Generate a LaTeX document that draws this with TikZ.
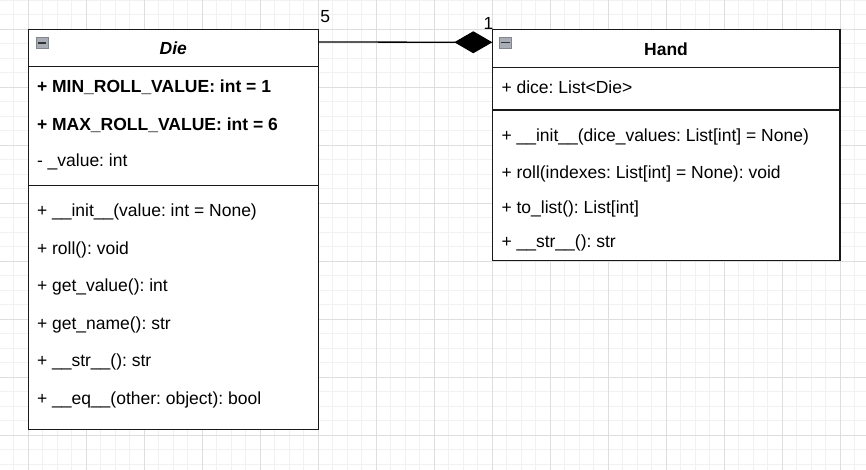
\documentclass[tikz,border=0pt]{standalone}
\usepackage{fontspec}
\setmainfont{Liberation Sans}
\usetikzlibrary{arrows.meta,positioning}

\definecolor{gridminor}{HTML}{F1F1F1}
\definecolor{gridmajor}{HTML}{DEDEDE}
\definecolor{iconfill}{HTML}{A9ADB5}
\definecolor{iconline}{HTML}{80858E}

\frenchspacing

\begin{document}
\begin{tikzpicture}[x=1pt, y=-1pt]
        \tikzstyle{every node}=[inner sep=0pt, outer sep=0pt, font=\fontsize{17.5}{20}\selectfont]
        \tikzstyle{classpart}=[draw=black!90, line width=1.2pt, rectangle, anchor=north west]
        \tikzstyle{member}=[anchor=west]
        \tikzstyle{icon}=[draw=iconline, fill=iconfill, minimum width=12pt, minimum height=11.5pt, anchor=north west]

% background and grid
        \useasboundingbox (0,0) rectangle (866,470);
        \fill[white] (0,0) rectangle (866,470);
        \foreach \i in {-2,...,58} {
                \draw[gridminor, line width=0.9pt] (28.3+14.5*\i,0) -- (28.3+14.5*\i,470);
        }
        \foreach \i in {-2,...,31} {
                \draw[gridminor, line width=0.9pt] (0,29.3+14.5*\i) -- (866,29.3+14.5*\i);
        }
        \foreach \i in {0,...,14} {
                \draw[gridmajor, line width=0.9pt] (28.3+58*\i,0) -- (28.3+58*\i,470);
        }
        \foreach \i in {-1,...,7} {
                \draw[gridmajor, line width=0.9pt] (0,29.3+58*\i) -- (866,29.3+58*\i);
        }

% class Die
        \node[classpart, fill=white, minimum width=290pt, minimum height=37.4pt] (dieHead) at (28.3,29.3) {};
        \node[classpart, fill=white, minimum width=290pt, minimum height=119pt] (dieAttr) at (28.3,66.7) {};
        \node[classpart, fill=white, minimum width=290pt, minimum height=243.6pt] (dieOps) at (28.3,185.7) {};
        \node[icon] (dieIcon) at (35.8,37.2) {};
        \draw[black!80, line width=1.3pt] ([xshift=1.8pt]dieIcon.west) -- ([xshift=-1.8pt]dieIcon.east);
        \node[font=\fontsize{17.5}{20}\selectfont\bfseries\itshape] (dieName) at (173.3,48.5) {Die};

        \node[member, font=\fontsize{17.5}{20}\selectfont\bfseries] (dieMin) at (37,87.3) {+ MIN\_ROLL\_VALUE: int = 1};
        \node[member, font=\fontsize{17.5}{20}\selectfont\bfseries] (dieMax) at (37,125) {+ MAX\_ROLL\_VALUE: int = 6};
        \node[member] (dieValue) at (37,162.3) {- \_value: int};

        \node[member] (dieInit) at (37,212.3) {+ \_\_init\_\_(value: int = None)};
        \node[member] (dieRoll) at (37,250) {+ roll(): void};
        \node[member] (dieGet) at (37,287.3) {+ get\_value(): int};
        \node[member] (dieName2) at (37,325.3) {+ get\_name(): str};
        \node[member] (dieStr) at (37,362.3) {+ \_\_str\_\_(): str};
        \node[member] (dieEq) at (37,400) {+ \_\_eq\_\_(other: object): bool};

% class Hand
        \node[classpart, fill=white, minimum width=347.7pt, minimum height=38pt] (handHead) at (492.3,29.3) {};
        \node[classpart, fill=white, minimum width=347.7pt, minimum height=42.7pt] (handAttr) at (492.3,67.3) {};
        \node[classpart, fill=white, minimum width=347.7pt, minimum height=150.7pt] (handOps) at (492.3,110) {};
        \node[icon] (handIcon) at (499.3,37) {};
        \draw[black!80, line width=1.3pt] ([xshift=1.8pt]handIcon.west) -- ([xshift=-1.8pt]handIcon.east);
        \node[font=\fontsize{17.5}{20}\selectfont\bfseries] (handName) at (666,48.8) {Hand};

        \node[member] (handDice) at (501.5,87.3) {+ dice: List<Die>};

        \node[member] (handInit) at (501.5,136.7) {+ \_\_init\_\_(dice\_values: List[int] = None)};
        \node[member] (handRoll) at (501.5,174) {+ roll(indexes: List[int] = None): void};
        \node[member] (handList) at (501.5,209.3) {+ to\_list(): List[int]};
        \node[member] (handStr) at (501.5,243.3) {+ \_\_str\_\_(): str};

% composition Die -- Hand
        \draw[line width=1.3pt, -{Diamond[length=38pt, width=22pt]}] ([yshift=6pt]dieHead.east) -- ([yshift=6pt]handHead.west)
                node[pos=0, anchor=south west, xshift=2pt, yshift=19pt] (manyDie) {5}
                node[pos=1, anchor=south east, xshift=1pt, yshift=13pt] (oneHand) {1};

    \end{tikzpicture}
\end{document}
